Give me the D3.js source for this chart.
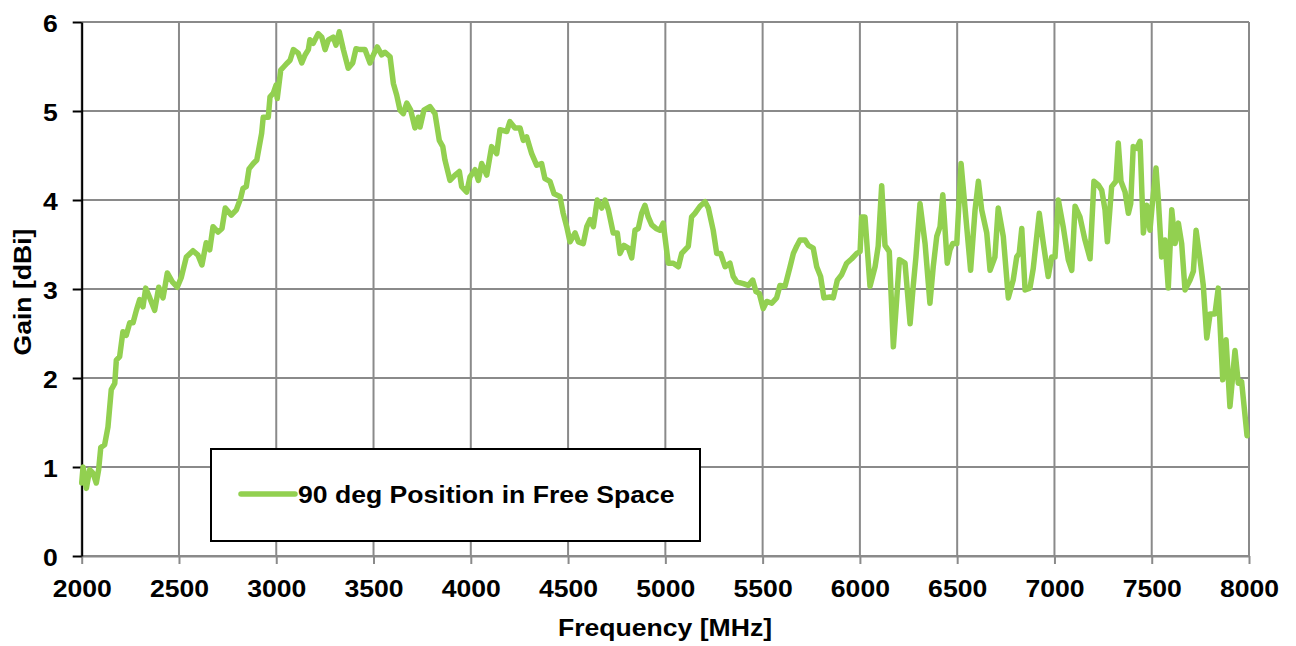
<!DOCTYPE html>
<html>
<head>
<meta charset="utf-8">
<script src="https://cdn.jsdelivr.net/npm/d3@7"></script>
<style>
  html, body { margin: 0; padding: 0; background: #ffffff; }
  svg { display: block; }
  text { font-family: "Liberation Sans", Arial, sans-serif; font-weight: bold; fill: #000; }
</style>
</head>
<body>
<svg id="chart" width="1296" height="646"></svg>
<script>
const freqMHz = [2000,2007,2024,2041,2058,2075,2087,2098,2118,2135,2152,2170,2178,2195,2212,2229,2247,2264,2281,2298,2315,2329,2350,2375,2396,2418,2440,2466,2491,2512,2538,2572,2598,2618,2640,2658,2675,2701,2721,2738,2769,2795,2817,2829,2846,2860,2882,2900,2925,2933,2959,2968,2985,2999,3005,3023,3040,3057,3071,3088,3113,3131,3148,3165,3173,3190,3216,3234,3251,3268,3293,3307,3324,3345,3370,3393,3410,3431,3456,3482,3499,3519,3542,3559,3585,3602,3619,3636,3653,3671,3691,3713,3730,3739,3759,3790,3816,3838,3856,3867,3893,3919,3941,3953,3979,3996,4022,4039,4056,4082,4107,4133,4150,4185,4201,4227,4253,4270,4287,4313,4339,4364,4381,4407,4428,4458,4475,4493,4510,4536,4553,4578,4596,4613,4630,4650,4673,4690,4707,4732,4753,4767,4787,4810,4827,4844,4861,4878,4895,4912,4930,4952,4972,4989,5015,5041,5067,5084,5101,5118,5135,5152,5178,5204,5221,5246,5264,5284,5307,5332,5349,5367,5401,5426,5449,5466,5483,5503,5521,5547,5572,5589,5615,5641,5658,5675,5692,5718,5735,5760,5778,5798,5815,5846,5863,5884,5906,5932,5958,5984,6001,6009,6026,6052,6078,6094,6112,6129,6151,6172,6189,6203,6232,6258,6274,6288,6309,6335,6360,6377,6395,6412,6426,6449,6463,6477,6498,6520,6549,6569,6592,6609,6626,6652,6669,6694,6711,6737,6763,6788,6806,6819,6832,6849,6874,6891,6922,6943,6968,6986,7003,7020,7045,7071,7089,7106,7131,7157,7183,7203,7225,7243,7260,7272,7294,7316,7328,7342,7363,7380,7392,7405,7423,7440,7457,7474,7491,7505,7522,7534,7551,7568,7585,7603,7620,7637,7654,7671,7697,7714,7728,7748,7765,7783,7800,7825,7842,7865,7882,7902,7928,7945,7962,7990];
const gainDbi = [0.82,1.00,0.76,0.97,0.93,0.82,0.97,1.22,1.25,1.45,1.87,1.94,2.20,2.24,2.52,2.48,2.62,2.62,2.76,2.88,2.80,3.01,2.90,2.76,3.02,2.90,3.18,3.08,3.02,3.13,3.36,3.43,3.38,3.27,3.52,3.44,3.70,3.64,3.68,3.91,3.83,3.89,4.02,4.13,4.15,4.35,4.41,4.45,4.75,4.93,4.93,5.16,5.20,5.29,5.14,5.46,5.50,5.54,5.57,5.69,5.65,5.54,5.63,5.69,5.80,5.76,5.87,5.83,5.69,5.80,5.83,5.74,5.89,5.69,5.48,5.54,5.70,5.69,5.69,5.54,5.63,5.72,5.63,5.66,5.61,5.31,5.18,5.01,4.97,5.09,5.01,4.81,4.93,4.82,5.01,5.05,4.97,4.67,4.60,4.45,4.22,4.28,4.32,4.15,4.09,4.26,4.34,4.22,4.41,4.28,4.60,4.52,4.79,4.77,4.88,4.81,4.81,4.67,4.71,4.52,4.39,4.41,4.24,4.21,4.07,4.04,3.85,3.70,3.53,3.63,3.53,3.51,3.70,3.78,3.70,4.00,3.91,4.00,3.89,3.63,3.63,3.40,3.49,3.46,3.35,3.66,3.68,3.85,3.94,3.81,3.72,3.68,3.66,3.74,3.29,3.29,3.25,3.40,3.44,3.48,3.81,3.85,3.93,3.98,3.91,3.66,3.40,3.40,3.25,3.29,3.14,3.08,3.06,3.04,3.10,2.97,2.95,2.78,2.86,2.84,2.90,3.04,3.03,3.25,3.40,3.48,3.55,3.55,3.49,3.46,3.25,3.14,2.90,2.91,2.90,3.10,3.16,3.29,3.34,3.40,3.42,3.81,3.81,3.03,3.25,3.48,4.16,3.49,3.42,2.35,2.88,3.33,3.29,2.61,3.03,3.36,3.96,3.51,2.84,3.25,3.59,3.70,4.06,3.29,3.44,3.51,3.51,4.41,3.70,3.21,3.89,4.21,3.89,3.63,3.21,3.36,3.91,3.59,2.90,3.10,3.36,3.40,3.68,2.99,3.01,3.23,3.85,3.51,3.14,3.36,3.36,4.00,3.70,3.33,3.21,3.93,3.81,3.55,3.34,4.21,4.17,4.11,3.89,3.53,4.15,4.21,4.64,4.21,4.09,3.85,3.96,4.60,4.58,4.66,3.63,3.94,3.66,4.00,4.36,4.00,3.36,3.55,3.01,3.89,3.51,3.74,3.51,2.99,3.10,3.20,3.66,3.34,3.04,2.45,2.72,2.72,3.01,1.98,2.43,1.68,2.31,1.94,1.96,1.35];
const xTicks = [2000,2500,3000,3500,4000,4500,5000,5500,6000,6500,7000,7500,8000];
const yTicks = [0,1,2,3,4,5,6];
const seriesName = "90 deg Position in Free Space";
const xTitle = "Frequency [MHz]";
const yTitle = "Gain [dBi]";

const svg = d3.select("#chart");
const L = 81.7, R = 1249, T = 22, B = 556;
const SX = 1.085, FS = 24.5;
const x = d3.scaleLinear().domain([2000, 8000]).range([L, R]);
const y = d3.scaleLinear().domain([0, 6]).range([B, T]);
const gridColor = "#8a8a8a";
const data = freqMHz.map((f, i) => ({f, g: gainDbi[i]}));

// grid
const grid = svg.append("g");
grid.selectAll(".hg").data(yTicks).join("line")
  .attr("x1", L).attr("x2", R).attr("y1", d => y(d)).attr("y2", d => y(d))
  .attr("stroke", gridColor).attr("stroke-width", 2);
grid.selectAll(".vg").data(xTicks).join("line")
  .attr("x1", d => x(d)).attr("x2", d => x(d)).attr("y1", T).attr("y2", B)
  .attr("stroke", gridColor).attr("stroke-width", 2);

// x axis (gray, ticks down)
const xAx = svg.append("g").attr("transform", `translate(0,${B})`)
  .call(d3.axisBottom(x).tickValues(xTicks).tickSize(8).tickSizeOuter(0).tickPadding(0).tickFormat(d3.format("d")));
xAx.select(".domain").attr("stroke", gridColor).attr("stroke-width", 2);
xAx.selectAll(".tick line").attr("stroke", gridColor).attr("stroke-width", 2);
xAx.selectAll(".tick text").attr("y", 0).attr("dy", null)
  .attr("transform", `translate(0,41) scale(${SX},1)`)
  .style("font-size", FS + "px").attr("fill", "#000");

// y axis (black, ticks left)
const yAx = svg.append("g").attr("transform", `translate(${L},0)`)
  .call(d3.axisLeft(y).tickValues(yTicks).tickSize(9).tickSizeOuter(0).tickPadding(0).tickFormat(d3.format("d")));
yAx.select(".domain").attr("stroke", "#000").attr("stroke-width", 2);
yAx.selectAll(".tick line").attr("stroke", "#000").attr("stroke-width", 2);
yAx.selectAll(".tick text").attr("x", 0).attr("dy", null).attr("y", 0)
  .attr("transform", `translate(-24,9) scale(${SX},1)`)
  .style("font-size", FS + "px").attr("fill", "#000");
svg.selectAll(".domain").attr("fill", "none");

// line
const line = d3.line().x(d => x(d.f)).y(d => y(d.g));
svg.append("path").datum(data).attr("d", line)
  .attr("fill", "none").attr("stroke", "#92d050").attr("stroke-width", 5.5)
  .attr("stroke-linejoin", "round").attr("stroke-linecap", "round");

// titles
svg.append("text").attr("transform", `translate(665,636) scale(${SX},1)`)
  .attr("text-anchor", "middle").style("font-size", FS + "px").text(xTitle);
svg.append("text").attr("transform", `translate(31,292) rotate(-90) scale(${SX},1)`)
  .attr("text-anchor", "middle").style("font-size", FS + "px").text(yTitle);

// legend
const lg = svg.append("g");
lg.append("rect").attr("x", 211).attr("y", 449).attr("width", 489).attr("height", 92)
  .attr("fill", "#fff").attr("stroke", "#000").attr("stroke-width", 2);
lg.append("line").attr("x1", 241).attr("x2", 295).attr("y1", 494).attr("y2", 494)
  .attr("stroke", "#92d050").attr("stroke-width", 5.5).attr("stroke-linecap", "round");
lg.append("text").attr("transform", `translate(298,503) scale(${SX},1)`)
  .style("font-size", FS + "px").text(seriesName);
</script>
</body>
</html>
